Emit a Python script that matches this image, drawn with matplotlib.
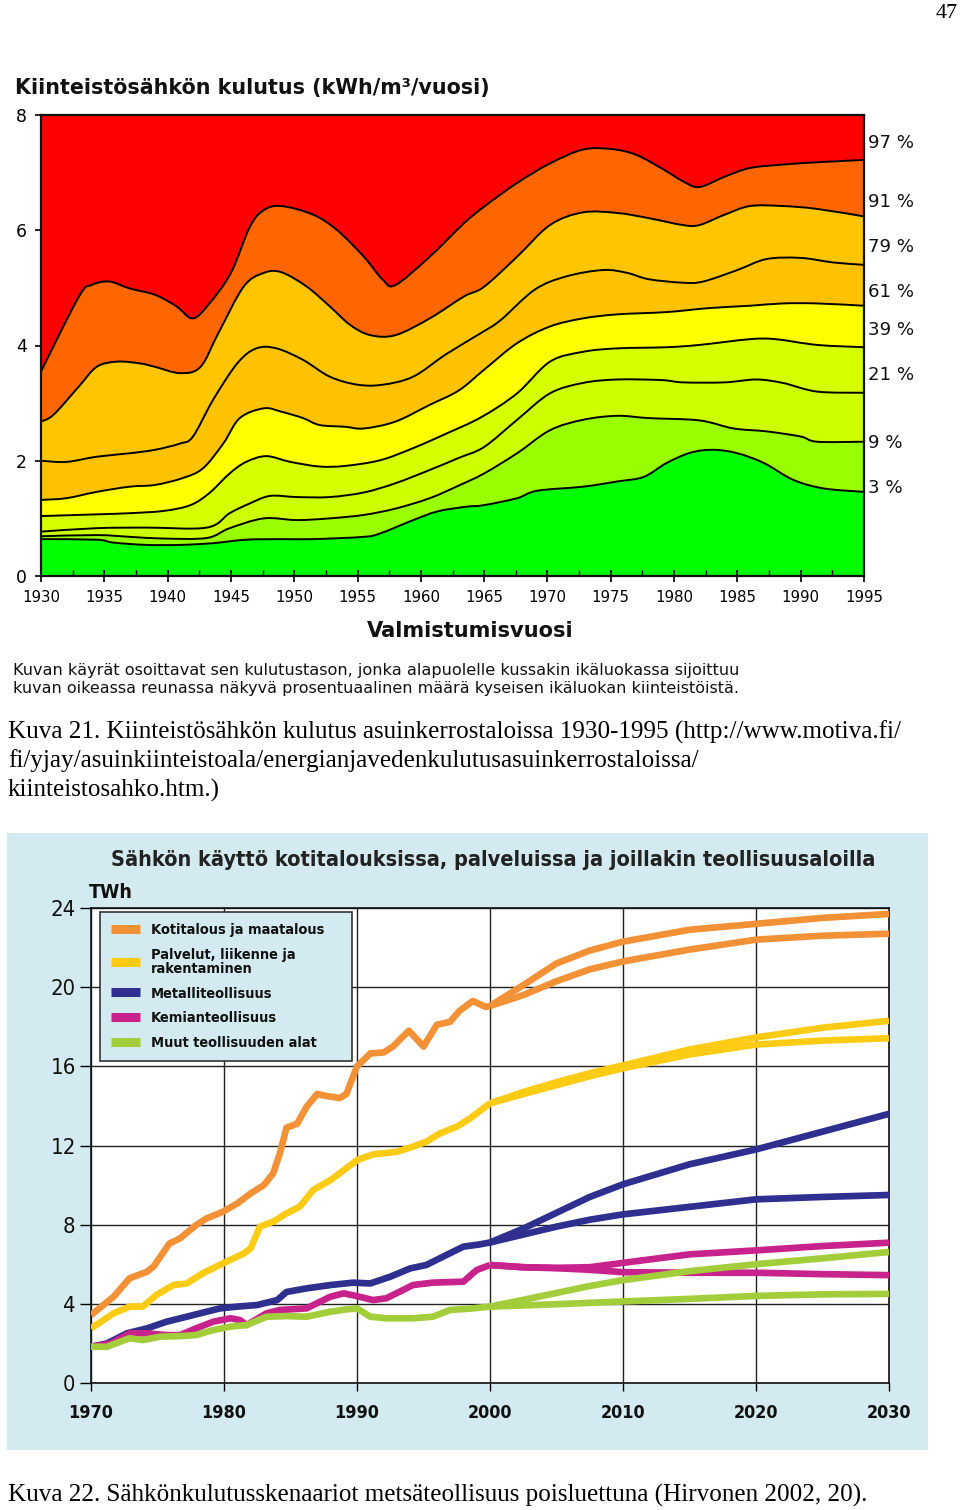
import matplotlib
matplotlib.use('Agg')
import numpy as np
import matplotlib.pyplot as plt
from matplotlib import font_manager as fm
from matplotlib.lines import Line2D
from matplotlib.patches import Rectangle, PathPatch
from matplotlib.path import Path
from matplotlib.transforms import blended_transform_factory

# ---------------- data: top chart (percentile curves, kWh/m3/year) ----------------
pct_labels = ["97 %", "91 %", "79 %", "61 %", "39 %", "21 %", "9 %", "3 %"]

p97_x = [1930, 1933, 1934, 1935.4, 1937, 1939, 1940.7, 1942, 1943.3, 1945, 1946.5, 1947.6, 1949, 1951.5,
         1953.4, 1955.5, 1957, 1958, 1960.7, 1963.4, 1965, 1967.6, 1970.2, 1972.8, 1975, 1977, 1979.2,
         1980.7, 1982, 1984, 1986, 1988.6, 1991.3, 1995]
p97_y = [3.55, 4.85, 5.05, 5.11, 4.99, 4.88, 4.68, 4.47, 4.73, 5.26, 6.06, 6.35, 6.42, 6.27,
         6.0, 5.54, 5.14, 5.05, 5.54, 6.12, 6.41, 6.82, 7.16, 7.40, 7.41, 7.31, 7.05,
         6.85, 6.75, 6.93, 7.08, 7.14, 7.18, 7.22]

p91_x = [1930, 1931, 1933, 1934.4, 1936, 1937.8, 1939, 1941, 1942.6, 1944, 1946, 1947.6, 1949, 1951,
         1952.8, 1954.4, 1956, 1958, 1960.7, 1963.4, 1965, 1967.6, 1970.2, 1972.8, 1975.5, 1978,
         1980.7, 1982, 1984, 1986, 1988.6, 1991.3, 1995]
p91_y = [2.68, 2.80, 3.29, 3.63, 3.72, 3.69, 3.63, 3.52, 3.63, 4.21, 5.02, 5.26, 5.27, 5.02,
         4.68, 4.36, 4.18, 4.18, 4.47, 4.85, 5.02, 5.54, 6.09, 6.31, 6.30, 6.21,
         6.09, 6.09, 6.27, 6.42, 6.42, 6.37, 6.24]

p79_x = [1930, 1932, 1934.4, 1937, 1939, 1941, 1942, 1943.6, 1945.5, 1947, 1948.6, 1950.7, 1952.8,
         1955, 1957, 1959.4, 1962, 1964.7, 1966.3, 1969, 1971.5, 1974.4, 1976.3, 1978, 1980.7,
         1982.3, 1985, 1987.3, 1990, 1992.6, 1995]
p79_y = [2.0, 1.98, 2.07, 2.13, 2.19, 2.30, 2.42, 3.06, 3.69, 3.95, 3.95, 3.75, 3.46,
         3.32, 3.32, 3.46, 3.85, 4.21, 4.44, 4.97, 5.20, 5.31, 5.26, 5.15, 5.09,
         5.11, 5.31, 5.50, 5.52, 5.44, 5.40]

p61_x = [1930, 1932, 1934.4, 1937, 1939, 1941.2, 1942.8, 1944.4, 1945.7, 1947.6, 1949, 1950.7, 1952,
         1954, 1955.5, 1958, 1960.7, 1963, 1965, 1967.6, 1970.2, 1972.8, 1975.5, 1979.4, 1982.8,
         1986, 1988.6, 1991.3, 1995]
p61_y = [1.32, 1.35, 1.46, 1.55, 1.58, 1.70, 1.87, 2.30, 2.74, 2.91, 2.85, 2.74, 2.62,
         2.59, 2.56, 2.68, 2.97, 3.22, 3.58, 4.04, 4.33, 4.47, 4.54, 4.58, 4.65,
         4.69, 4.73, 4.73, 4.69]

p39_x = [1930, 1934.4, 1937, 1939.7, 1941.8, 1943.3, 1944.9, 1946.2, 1947.8, 1949.7, 1952, 1954,
         1956.8, 1959.4, 1962, 1964.8, 1967.6, 1970.2, 1972.8, 1975.5, 1979.4, 1982, 1986, 1988,
         1991.3, 1995]
p39_y = [1.04, 1.07, 1.09, 1.13, 1.23, 1.44, 1.78, 1.98, 2.08, 1.98, 1.90, 1.91,
         2.01, 2.22, 2.47, 2.76, 3.17, 3.72, 3.89, 3.95, 3.97, 4.01, 4.11, 4.11,
         4.01, 3.97]

p21_x = [1930, 1934.4, 1938.3, 1943.1, 1944.9, 1946.5, 1948.1, 1950.2, 1952.8, 1955.5, 1958, 1960.7,
         1963, 1965, 1967.6, 1970.2, 1972.8, 1975.5, 1979, 1980.7, 1984, 1986.5, 1988.6, 1991.3, 1995]
p21_y = [0.77, 0.83, 0.84, 0.84, 1.09, 1.26, 1.39, 1.37, 1.37, 1.45, 1.61, 1.84,
         2.05, 2.24, 2.71, 3.17, 3.35, 3.41, 3.40, 3.36, 3.36, 3.41, 3.35, 3.20, 3.18]

p9_x = [1930, 1934.4, 1937, 1939.7, 1943.1, 1944.9, 1947.6, 1950.2, 1952.8, 1955.5, 1958, 1960.7,
        1963, 1965, 1967.6, 1970.2, 1972.8, 1975.5, 1978, 1982, 1984.7, 1987.3, 1990, 1991.3, 1995]
p9_y = [0.69, 0.71, 0.68, 0.65, 0.66, 0.83, 1.00, 0.97, 1.00, 1.06, 1.17, 1.35,
        1.57, 1.78, 2.13, 2.53, 2.71, 2.78, 2.74, 2.70, 2.56, 2.51, 2.42, 2.33, 2.33]

p3_x = [1930, 1934.4, 1935.7, 1938.3, 1941, 1943.6, 1946.2, 1949, 1951.5, 1955.5, 1956.8, 1959.4,
        1961.3, 1963.5, 1965, 1967.6, 1969.2, 1972.8, 1975.5, 1977.6, 1979.4, 1981.3, 1983.1, 1985,
        1987.1, 1989.4, 1991.8, 1995]
p3_y = [0.64, 0.63, 0.58, 0.54, 0.54, 0.57, 0.63, 0.64, 0.64, 0.68, 0.74, 0.97,
        1.12, 1.20, 1.23, 1.35, 1.48, 1.55, 1.64, 1.72, 1.96, 2.14, 2.19, 2.13,
        1.96, 1.67, 1.52, 1.46]

top_years_ticks = list(range(1930, 1996, 5))
top_y_ticks = [0, 2, 4, 6, 8]

# ---------------- data: bottom chart (TWh) ----------------
series_names = ["Kotitalous ja maatalous", "Palvelut, liikenne ja\nrakentaminen",
                "Metalliteollisuus", "Kemianteollisuus", "Muut teollisuuden alat"]
proj_years = [2000, 2002.5, 2005, 2007.5, 2010, 2015, 2020, 2025, 2030]

koti_x = [1970, 1971.7, 1972.9, 1974.2, 1974.7, 1975.9, 1976.7, 1977.9, 1978.7, 1979.9, 1981, 1982,
          1983, 1983.7, 1984.2, 1984.7, 1985.5, 1986.2, 1987, 1987.7, 1988.7, 1989.2, 1990, 1991,
          1992, 1992.7, 1993.9, 1995, 1996, 1997, 1997.7, 1998.7, 1999.7, 2000]
koti_y = [3.43, 4.36, 5.29, 5.62, 5.88, 7.05, 7.31, 7.98, 8.32, 8.65, 9.07, 9.58,
          10.0, 10.6, 11.6, 12.9, 13.1, 13.95, 14.6, 14.5, 14.4, 14.6, 16.0, 16.65,
          16.7, 17.0, 17.8, 17.0, 18.1, 18.25, 18.8, 19.3, 19.0, 19.05]
koti_hi = [19.05, 20.1, 21.2, 21.85, 22.3, 22.9, 23.2, 23.5, 23.7]
koti_lo = [19.05, 19.6, 20.3, 20.9, 21.3, 21.9, 22.4, 22.6, 22.7]

palv_x = [1970, 1971.7, 1972.9, 1973.9, 1974.9, 1976.2, 1977.2, 1978.4, 1979.9, 1981.5, 1982, 1982.7,
          1983.7, 1984.7, 1985.7, 1986.7, 1988, 1989.2, 1990, 1991.2, 1993, 1994.2, 1995.2, 1996.2,
          1997.5, 1998.5, 2000]
palv_y = [2.76, 3.52, 3.86, 3.86, 4.44, 4.95, 5.03, 5.54, 6.04, 6.55, 6.8, 7.9,
          8.15, 8.57, 8.91, 9.75, 10.25, 10.85, 11.26, 11.55, 11.68, 11.94, 12.19, 12.6,
          12.95, 13.37, 14.13]
palv_hi = [14.13, 14.7, 15.2, 15.65, 16.05, 16.85, 17.46, 17.95, 18.3]
palv_lo = [14.13, 14.6, 15.05, 15.5, 15.9, 16.6, 17.1, 17.3, 17.42]

metal_x = [1970, 1971.2, 1972.7, 1974.2, 1975.7, 1977.2, 1978.2, 1979.7, 1981, 1982.5, 1984, 1984.7,
           1986.2, 1988, 1989.7, 1991, 1992.5, 1994, 1995.2, 1996.7, 1998, 1999.2, 2000]
metal_y = [1.83, 2.0, 2.51, 2.76, 3.1, 3.35, 3.52, 3.77, 3.86, 3.94, 4.19, 4.6,
           4.78, 4.95, 5.07, 5.03, 5.37, 5.79, 5.96, 6.46, 6.89, 7.0, 7.1]
metal_hi = [7.1, 7.8, 8.6, 9.4, 10.04, 11.05, 11.8, 12.7, 13.6]
metal_lo = [7.1, 7.5, 7.9, 8.25, 8.52, 8.9, 9.28, 9.4, 9.5]

kemia_x = [1970, 1971.5, 1972.9, 1974.2, 1975.7, 1976.7, 1977.9, 1979.2, 1980.5, 1981.2, 1981.7, 1983.2,
           1984.2, 1986.2, 1988, 1989, 1990, 1991.2, 1992.2, 1993.2, 1994.2, 1995.7, 1998, 1999, 2000]
kemia_y = [1.83, 2.0, 2.51, 2.51, 2.42, 2.42, 2.76, 3.1, 3.27, 3.18, 2.93, 3.52,
           3.69, 3.77, 4.36, 4.53, 4.39, 4.19, 4.28, 4.61, 4.95, 5.07, 5.12, 5.71, 5.96]
kemia_hi = [5.96, 5.85, 5.82, 5.85, 6.07, 6.5, 6.7, 6.92, 7.09]
kemia_lo = [5.96, 5.85, 5.8, 5.72, 5.6, 5.57, 5.57, 5.5, 5.45]

muut_x = [1970, 1971.2, 1972.2, 1972.9, 1973.9, 1975.2, 1976.7, 1977.9, 1979.2, 1980.5, 1981.7, 1983.2,
          1984.7, 1986.2, 1988, 1989.2, 1990, 1991, 1992.2, 1994.2, 1995.7, 1997, 1998.7, 2000]
muut_y = [1.83, 1.83, 2.09, 2.26, 2.17, 2.34, 2.37, 2.42, 2.68, 2.85, 2.93, 3.35,
          3.38, 3.35, 3.6, 3.72, 3.77, 3.35, 3.27, 3.27, 3.35, 3.69, 3.77, 3.86]
muut_hi = [3.86, 4.2, 4.55, 4.9, 5.2, 5.65, 6.0, 6.3, 6.62]
muut_lo = [3.86, 3.92, 3.98, 4.05, 4.12, 4.25, 4.4, 4.48, 4.5]

bottom_x_ticks = [1970, 1980, 1990, 2000, 2010, 2020, 2030]
bottom_y_ticks = [0, 4, 8, 12, 16, 20, 24]

# ---------------- figure & fonts ----------------
W, H = 960, 1510
fig = plt.figure(figsize=(W / 100, H / 100), dpi=100)
fig.patch.set_facecolor('white')
renderer = fig.canvas.get_renderer()


def fx(px):
    return px / W


def fy(py):
    return 1 - py / H


entries = [(f.name, getattr(f, 'stretch', 'normal')) for f in fm.fontManager.ttflist]
names = {n for n, s in entries}
if 'Liberation Sans Narrow' in names:
    NARROW = dict(family='Liberation Sans Narrow')
elif 'DejaVu Sans Condensed' in names:
    NARROW = dict(family='DejaVu Sans Condensed')
elif any(n == 'DejaVu Sans' and str(s) == 'condensed' for n, s in entries):
    NARROW = dict(family='DejaVu Sans', stretch='condensed')
else:
    NARROW = dict(family='DejaVu Sans')
SERIF = 'Liberation Serif' if 'Liberation Serif' in names else 'DejaVu Serif'
SANS = 'DejaVu Sans'


def size_for(s, width_px, base=10, **kw):
    t = fig.text(0, 0, s, fontsize=base, **kw)
    w = t.get_window_extent(renderer=renderer).width
    t.remove()
    return base * width_px / w


def fit_text(x_px, y_px, s, width_px, ha='left', va='center', **kw):
    fs = size_for(s, width_px, **kw)
    return fig.text(fx(x_px), fy(y_px), s, ha=ha, va=va, fontsize=fs, **kw)


def apply_font(lab, fontdict):
    for k, v in fontdict.items():
        if k == 'family':
            lab.set_family(v)
        elif k == 'stretch':
            lab.set_stretch(v)


# smooth (Catmull-Rom -> cubic Bezier) rendering of a curve through the read data points
def smooth_parts(xs, ys):
    P = np.column_stack([xs, ys]).astype(float)
    n = len(P)
    verts = [P[0]]
    for i in range(n - 1):
        p0 = P[i - 1] if i > 0 else P[i]
        p1, p2 = P[i], P[i + 1]
        p3 = P[i + 2] if i + 2 < n else P[i + 1]
        verts += [p1 + (p2 - p0) / 6.0, p2 - (p3 - p1) / 6.0, p2]
    codes = [Path.MOVETO] + [Path.CURVE4] * (len(verts) - 1)
    return np.array(verts), codes


def straight_parts(xs, ys):
    verts = np.column_stack([xs, ys]).astype(float)
    codes = [Path.MOVETO] + [Path.LINETO] * (len(verts) - 1)
    return verts, codes


def band_path(lower, upper):
    lv, lc = lower
    uv, uc = upper
    verts = np.vstack([lv, uv[::-1], lv[:1]])
    codes = list(lc) + [Path.LINETO] + list(uc[1:]) + [Path.CLOSEPOLY]
    return Path(verts, codes)


# ---------------- page number and top chart texts ----------------
fit_text(958, 13, "47", 22, ha='right', family=SERIF)
fit_text(15, 88, "Kiinteistösähkön kulutus (kWh/m³/vuosi)", 472, family=SANS, weight='bold', color='#111111')

ax1 = fig.add_axes([fx(41), fy(576), (864 - 41) / W, (576 - 115) / H])
ax1.set_xlim(1930, 1995)
ax1.set_ylim(0, 8)

curves_x = [p3_x, p9_x, p21_x, p39_x, p61_x, p79_x, p91_x, p97_x]
curves_y = [p3_y, p9_y, p21_y, p39_y, p61_y, p79_y, p91_y, p97_y]
band_colors = ['#00FF00', '#99FF00', '#CCFF00', '#D6FF00', '#FFFF00', '#FFC200', '#FFC600', '#FF6600', '#FF0000']

x0, x1 = top_years_ticks[0], top_years_ticks[-1]
boundaries = ([straight_parts([x0, x1], [0, 0])]
              + [smooth_parts(xs, ys) for xs, ys in zip(curves_x, curves_y)]
              + [straight_parts([x0, x1], [8, 8])])
for i in range(len(boundaries) - 1):
    ax1.add_patch(PathPatch(band_path(boundaries[i], boundaries[i + 1]), facecolor=band_colors[i],
                            edgecolor='none', lw=0))
for v, c in boundaries[1:-1]:
    ax1.add_patch(PathPatch(Path(v, c), fill=False, edgecolor='black', lw=1.4))

ax1.set_xticks(top_years_ticks)
ax1.set_xticks([y + 2.5 for y in top_years_ticks[:-1]], minor=True)
ax1.set_yticks(top_y_ticks)
xl_fs = size_for("1930", 38, family=SANS)
ax1.tick_params(axis='x', which='major', direction='inout', length=8, width=1.2, pad=6, labelsize=xl_fs)
ax1.tick_params(axis='x', which='minor', direction='in', length=4, width=1.0)
ax1.tick_params(axis='y', direction='out', length=4, width=1.2, pad=6, labelsize=xl_fs * 1.15)
for sp in ax1.spines.values():
    sp.set_linewidth(1.6)
    sp.set_color('#111111')

tr = blended_transform_factory(ax1.transAxes, ax1.transData)
pct_label_y = [7.51, 6.49, 5.71, 4.93, 4.27, 3.49, 2.31, 1.53]
pct_fs = size_for("97 %", 46, family=SANS)
for lab, yv in zip(pct_labels, pct_label_y):
    ax1.text(1.005, yv, lab, transform=tr, ha='left', va='center', fontsize=pct_fs, family=SANS,
             color='#111111')

fit_text(470, 631, "Valmistumisvuosi", 206, ha='center', family=SANS, weight='bold', color='#111111')
fit_text(13, 670, "Kuvan käyrät osoittavat sen kulutustason, jonka alapuolelle kussakin ikäluokassa sijoittuu",
         725, family=SANS, color='#111111')
fit_text(13, 689, "kuvan oikeassa reunassa näkyvä prosentuaalinen määrä kyseisen ikäluokan kiinteistöistä.",
         725, family=SANS, color='#111111')

# ---------------- captions ----------------
cap_fs = size_for("Kuva 21. Kiinteistösähkön kulutus asuinkerrostaloissa 1930-1995 (http://www.motiva.fi/",
                  892, family=SERIF)
fig.text(fx(8), fy(732), "Kuva 21. Kiinteistösähkön kulutus asuinkerrostaloissa 1930-1995 (http://www.motiva.fi/",
         fontsize=cap_fs, family=SERIF, va='center')
fig.text(fx(8), fy(761), "fi/yjay/asuinkiinteistoala/energianjavedenkulutusasuinkerrostaloissa/",
         fontsize=cap_fs, family=SERIF, va='center')
fig.text(fx(8), fy(790), "kiinteistosahko.htm.)", fontsize=cap_fs, family=SERIF, va='center')
fig.text(fx(8), fy(1495), "Kuva 22. Sähkönkulutusskenaariot metsäteollisuus poisluettuna (Hirvonen 2002, 20).",
         fontsize=cap_fs, family=SERIF, va='center')

# ---------------- bottom chart ----------------
PANEL = '#D3EBF0'
panel = Rectangle((fx(7), fy(1450)), (928 - 7) / W, (1450 - 833) / H,
                  transform=fig.transFigure, facecolor=PANEL, edgecolor='none', zorder=-5)
fig.add_artist(panel)

fit_text(493, 860, "Sähkön käyttö kotitalouksissa, palveluissa ja joillakin teollisuusaloilla", 758,
         ha='center', weight='bold', color='#222222', **NARROW)
fit_text(89, 893, "TWh", 44, weight='bold', color='#111111', **NARROW)

ax2 = fig.add_axes([fx(91), fy(1383), (889 - 91) / W, (1383 - 908) / H])
ax2.set_zorder(2)
ax2.set_facecolor('white')
ax2.set_xlim(1970, 2030)
ax2.set_ylim(0, 24)
ax2.set_xticks(bottom_x_ticks)
ax2.set_yticks(bottom_y_ticks)
ax2.grid(True, color='#222222', lw=1.0)
ax2.set_axisbelow(True)
for sp in ax2.spines.values():
    sp.set_color('#111111')
    sp.set_linewidth(1.2)

bx_fs = size_for("1970", 45, weight='bold', **NARROW)
by_fs = size_for("24", 25, **NARROW)
ax2.tick_params(axis='x', direction='out', length=6, width=1.0, pad=9)
ax2.tick_params(axis='y', direction='out', length=8, width=1.0, pad=3)
for lab in ax2.get_xticklabels():
    lab.set_fontsize(bx_fs)
    lab.set_fontweight('bold')
    lab.set_color('#111111')
    apply_font(lab, NARROW)
for lab in ax2.get_yticklabels():
    lab.set_fontsize(by_fs)
    lab.set_color('#111111')
    apply_font(lab, NARROW)

C_KOTI = '#F39136'
C_PALV = '#FCCB14'
C_METAL = '#2E2F8E'
C_KEMIA = '#C8238C'
C_MUUT = '#A3CD3B'
LW = 4.8

series = [
    (koti_x, koti_y, koti_hi, koti_lo, C_KOTI),
    (palv_x, palv_y, palv_hi, palv_lo, C_PALV),
    (metal_x, metal_y, metal_hi, metal_lo, C_METAL),
    (kemia_x, kemia_y, kemia_hi, kemia_lo, C_KEMIA),
    (muut_x, muut_y, muut_hi, muut_lo, C_MUUT),
]
for z, (hx, hy, hi, lo, c) in enumerate(series):
    ax2.plot(hx, hy, color=c, lw=LW, solid_capstyle='butt', solid_joinstyle='round', zorder=3 + z)
    ax2.plot(proj_years, hi, color=c, lw=LW, solid_capstyle='butt', solid_joinstyle='round', zorder=3 + z)
    ax2.plot(proj_years, lo, color=c, lw=LW, solid_capstyle='butt', solid_joinstyle='round', zorder=3 + z)

handles = [Line2D([], [], color=c, lw=6.5, solid_capstyle='butt') for c in
           [C_KOTI, C_PALV, C_METAL, C_KEMIA, C_MUUT]]
leg_fs = size_for("Kotitalous ja maatalous", 172, weight='bold', **NARROW)
leg = ax2.legend(handles, series_names, loc='upper left',
                 bbox_to_anchor=(fx(100), fy(1060), (352 - 100) / W, (1060 - 912) / H),
                 mode='expand', bbox_transform=fig.transFigure, borderaxespad=0, fancybox=False,
                 framealpha=1, facecolor=PANEL, edgecolor='#333333', handlelength=2.0,
                 handletextpad=0.75, labelspacing=0.75, borderpad=0.75,
                 prop=dict(weight='bold', size=leg_fs, **NARROW))
leg.get_frame().set_linewidth(1.2)
leg.set_zorder(20)
for t in leg.get_texts():
    t.set_color('#111111')
    t.set_linespacing(1.0)

fig.savefig('out.png', dpi=100)
